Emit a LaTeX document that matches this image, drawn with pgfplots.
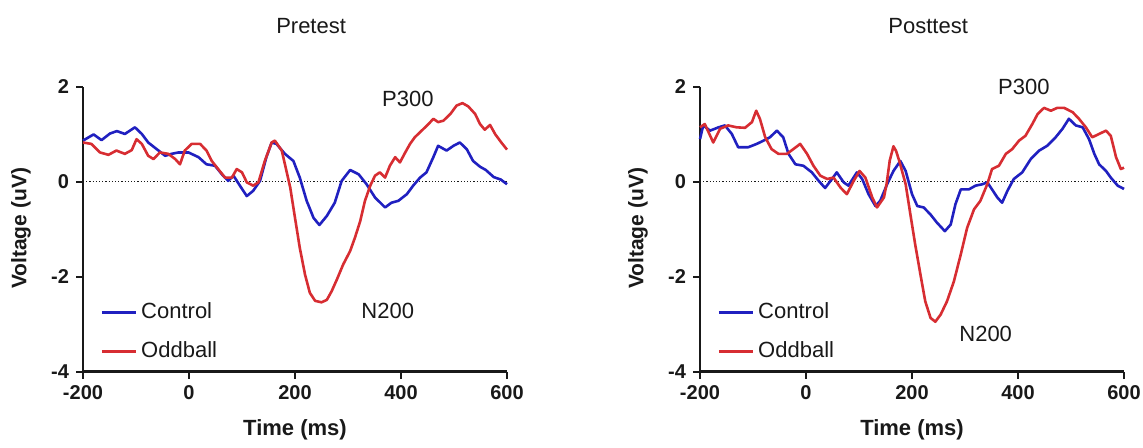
\documentclass[border=0pt]{standalone}
\usepackage{pgfplots}
\pgfplotsset{compat=1.18}
\usepackage{pgfplotstable}
\usepackage{fontspec}
\setmainfont{Liberation Sans}

\definecolor{ctrl}{RGB}{32,32,192}
\definecolor{odd}{RGB}{215,45,50}
\definecolor{txt}{RGB}{25,25,25}

% time (ms) vs voltage (uV)
\pgfplotstableread{
t v
-200 0.87
-180 1.00
-165 0.88
-149 1.02
-136 1.07
-121 1.01
-102 1.15
-89 1.01
-77 0.83
-61 0.69
-45 0.55
-33 0.59
-20 0.62
-1 0.62
18 0.52
33 0.37
49 0.34
62 0.16
74 0.02
84 0.13
96 -0.08
109 -0.30
121 -0.19
134 0.02
146 0.52
156 0.83
165 0.80
181 0.59
197 0.44
209 0.09
222 -0.40
235 -0.76
246 -0.91
260 -0.72
275 -0.44
288 0.02
304 0.25
320 0.16
335 -0.05
351 -0.33
370 -0.54
382 -0.44
395 -0.40
411 -0.26
423 -0.08
436 0.09
448 0.20
461 0.52
470 0.76
486 0.66
499 0.76
511 0.83
524 0.69
536 0.44
549 0.32
560 0.25
575 0.10
588 0.05
600 -0.05
}\preCtrl

\pgfplotstableread{
t v
-200 0.83
-184 0.80
-168 0.62
-152 0.57
-137 0.66
-121 0.59
-108 0.67
-99 0.90
-89 0.80
-77 0.55
-67 0.48
-55 0.62
-39 0.59
-26 0.48
-17 0.37
-8 0.66
5 0.80
21 0.80
33 0.66
43 0.44
55 0.27
68 0.09
81 0.09
90 0.27
100 0.20
109 -0.01
121 -0.08
131 -0.01
143 0.44
156 0.83
162 0.87
175 0.66
181 0.37
191 -0.12
200 -0.76
209 -1.39
219 -1.96
228 -2.34
238 -2.51
250 -2.54
260 -2.49
269 -2.31
279 -2.06
291 -1.74
304 -1.46
313 -1.18
323 -0.83
332 -0.40
342 -0.08
351 0.13
360 0.20
370 0.09
379 0.34
389 0.52
398 0.41
408 0.62
417 0.80
426 0.94
439 1.08
452 1.22
461 1.33
470 1.26
480 1.29
493 1.43
505 1.61
516 1.66
527 1.59
540 1.43
549 1.22
558 1.10
568 1.20
578 1.00
590 0.82
600 0.68
}\preOdd

\pgfplotstableread{
t v
-200 0.90
-194 1.19
-181 1.08
-165 1.15
-153 1.19
-140 1.01
-128 0.73
-109 0.73
-93 0.80
-80 0.87
-68 0.94
-55 1.08
-43 0.94
-33 0.59
-20 0.37
-5 0.34
11 0.20
24 0.02
36 -0.13
49 0.06
58 0.20
71 -0.01
80 -0.08
96 0.20
106 0.06
118 -0.26
131 -0.51
140 -0.40
153 -0.05
165 0.23
178 0.44
188 0.23
200 -0.26
210 -0.51
222 -0.54
235 -0.69
247 -0.86
262 -1.04
273 -0.90
282 -0.47
292 -0.16
307 -0.16
320 -0.08
333 -0.05
342 -0.01
351 -0.16
361 -0.33
370 -0.44
380 -0.19
392 0.06
408 0.20
424 0.48
440 0.66
455 0.76
471 0.94
484 1.12
496 1.33
509 1.19
522 1.15
534 0.90
544 0.59
553 0.37
566 0.23
575 0.09
588 -0.08
600 -0.15
}\postCtrl

\pgfplotstableread{
t v
-200 1.15
-191 1.22
-175 0.83
-162 1.12
-147 1.19
-131 1.15
-115 1.14
-102 1.26
-94 1.50
-87 1.33
-77 0.94
-65 0.69
-52 0.59
-36 0.59
-24 0.69
-11 0.80
2 0.59
14 0.34
27 0.13
40 0.06
52 0.09
65 -0.12
77 -0.26
90 0.02
101 0.23
112 0.09
125 -0.33
134 -0.54
147 -0.33
152 -0.05
158 0.45
165 0.75
170 0.65
176 0.44
188 -0.05
197 -0.69
206 -1.32
216 -1.96
225 -2.52
235 -2.87
244 -2.95
254 -2.80
266 -2.52
279 -2.10
292 -1.53
304 -0.97
317 -0.58
329 -0.40
342 -0.05
351 0.27
364 0.34
377 0.59
389 0.69
402 0.87
414 0.97
427 1.22
437 1.43
449 1.56
462 1.50
474 1.56
487 1.56
503 1.47
515 1.33
528 1.15
540 0.94
553 1.01
566 1.08
575 0.97
585 0.52
594 0.27
600 0.30
}\postOdd

\pgfplotsset{
  erp/.style={
    scale only axis, width=212pt, height=142.25pt,
    xmin=-200, xmax=600, ymin=-4, ymax=2,
    axis x line*=bottom, axis y line*=left,
    axis line style={-, line width=1.2pt, txt},
    xtick={-200,0,200,400,600}, xticklabels={-200,0,200,400,600},
    ytick={-4,-2,0,2}, yticklabels={-4,-2,0,2},
    tick align=outside, major tick length=3.5pt,
    every tick/.style={txt, line width=1pt},
    tick label style={font=\bfseries\fontsize{10}{12}\selectfont, text=txt},
    xlabel={Time (ms)}, ylabel={Voltage (uV)},
    xlabel style={at={(axis description cs:0.5,-0.206)}, anchor=center,
      font=\bfseries\fontsize{11}{13}\selectfont, text=txt},
    ylabel style={at={(axis description cs:-0.146,0.503)}, anchor=center,
      font=\bfseries\fontsize{10.5}{12}\selectfont, text=txt},
    title style={at={(axis description cs:0.538,1.172)}, anchor=center,
      font=\fontsize{11}{13}\selectfont, text=txt},
    legend style={at={(axis description cs:0.026,0.008)}, anchor=south west,
      draw=none, fill=none, font=\fontsize{11}{13}\selectfont, text=txt,
      row sep=6pt, legend cell align=left},
    legend image code/.code={\draw[#1, line width=1.4pt] (0pt,0pt) -- (17pt,0pt);},
    clip=false,
  },
  wave/.style={line width=1.3pt, line join=round},
}

\begin{document}
\begin{tikzpicture}
\path[use as bounding box] (0,0) rectangle (571.5pt,223.5pt);

\begin{axis}[erp, at={(41.5pt,37.75pt)}, anchor=south west, title={Pretest}]
  \addplot[txt, densely dotted, line width=0.6pt, forget plot] coordinates {(-200,0) (600,0)};
  \addplot[wave, ctrl] table[x=t, y=v] {\preCtrl};
  \addlegendentry{Control}
  \addplot[wave, odd] table[x=t, y=v] {\preOdd};
  \addlegendentry{Oddball}
  \node[font=\fontsize{11}{13}\selectfont, text=txt] at (axis cs:413,1.74) {P300};
  \node[font=\fontsize{11}{13}\selectfont, text=txt] at (axis cs:375,-2.73) {N200};
\end{axis}

\begin{axis}[erp, at={(350pt,37.75pt)}, anchor=south west, title={Posttest}]
  \addplot[txt, densely dotted, line width=0.6pt, forget plot] coordinates {(-200,0) (600,0)};
  \addplot[wave, ctrl] table[x=t, y=v] {\postCtrl};
  \addlegendentry{Control}
  \addplot[wave, odd] table[x=t, y=v] {\postOdd};
  \addlegendentry{Oddball}
  \node[font=\fontsize{11}{13}\selectfont, text=txt] at (axis cs:411,2.0) {P300};
  \node[font=\fontsize{11}{13}\selectfont, text=txt] at (axis cs:339,-3.2) {N200};
\end{axis}
\end{tikzpicture}
\end{document}
